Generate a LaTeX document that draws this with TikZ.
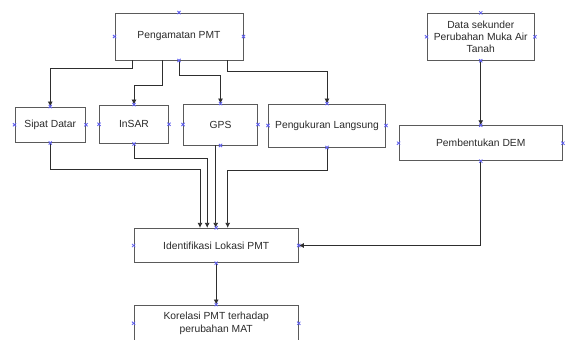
\documentclass[tikz,border=0pt]{standalone}
\usepackage{fontspec}
\setmainfont{Liberation Sans}
\usetikzlibrary{arrows.meta,calc}
\definecolor{boxline}{HTML}{5A5A5A}
\definecolor{conline}{HTML}{2E2E2E}
\definecolor{txt}{HTML}{2A2A2A}
\definecolor{mkblue}{RGB}{95,95,240}
\tikzset{
  box/.style={draw=boxline, line width=0.9pt, fill=white, text=txt, align=center,
    font=\fontsize{10.3}{12.4}\selectfont, inner sep=0pt},
  arr/.style={draw=conline, line width=0.8pt, -{Latex[length=5pt,width=5pt]}},
  con/.style={draw=conline, line width=0.8pt},
  mk/.style={draw=mkblue, line width=0.8pt}
}
\newcommand{\bluex}[1]{\draw[mk] (#1) +(-1.6,-1.6) -- +(1.6,1.6) +(-1.6,1.6) -- +(1.6,-1.6);}
\begin{document}
\begin{tikzpicture}[x=1pt,y=-1pt]
\useasboundingbox (0,0) rectangle (566,340);
\clip (0,0) rectangle (566,340);
\fill[white] (0,0) rectangle (566,340);

\node[box, minimum width=128pt, minimum height=47pt] (pm) at (179,36.5) {Pengamatan PMT};
\node[box, minimum width=70.5pt, minimum height=35.5pt] (sd) at (50.25,124.75) {Sipat Datar};
\node[box, minimum width=69pt, minimum height=38.5pt] (is) at (134,124.25) {InSAR};
\node[box, minimum width=74pt, minimum height=41pt] (gps) at (220.5,124.5) {GPS};
\node[box, minimum width=117pt, minimum height=43pt] (pl) at (327,125.5) {Pengukuran Langsung};
\node[box, minimum width=107.5pt, minimum height=47pt] (ds) at (480.75,36.8) {Data sekunder\\Perubahan Muka Air\\Tanah};
\node[box, minimum width=163.5pt, minimum height=35pt] (dem) at (480.75,143.2) {Pembentukan DEM};
\node[box, minimum width=164.3pt, minimum height=34.4pt] (id) at (216.2,245.5) {Identifikasi Lokasi PMT};
\node[box, minimum width=164.3pt, minimum height=36.6pt] (ko) at (216.2,323.3) {Korelasi PMT terhadap\\perubahan MAT};

\coordinate (gpsdrop) at ([xshift=-0.5pt]id.north);

% from Pengamatan PMT
\draw[arr] ([xshift=-46.3pt]pm.south) -- ++(0,8) -| (sd.north);
\draw[arr] ([xshift=-16.7pt]pm.south) -- ++(0,25) -| (is.north);
\draw[arr] (pm.south) -- ++(0,15) -| (gps.north);
\draw[arr] ([xshift=48.7pt]pm.south) -- ++(0,10.7) -| (pl.north);

% data sekunder to DEM
\draw[arr] (ds.south) -- (dem.north);

% into Identifikasi
\draw[arr] (sd.south) -- ++(0,26.8) -| ([xshift=-16.2pt]id.north);
\draw[arr] (is.south) -- ++(0,14.8) -| ([xshift=-9pt]id.north);
\draw[arr] (gpsdrop |- gps.south) -- (gpsdrop);
\draw[arr] (pl.south) -- ++(0,23) -| ([xshift=11.5pt]id.north);
\draw[arr] (dem.south) |- (id.east);

% to Korelasi
\draw[arr] (id.south) -- (ko.north);

% connection point markers
\foreach \n in {pm,sd,is,gps,pl,ds,dem,id,ko}{
  \bluex{\n.north}
  \bluex{\n.south}
  \bluex{\n.east}
  \bluex{\n.west}
}
\end{tikzpicture}
\end{document}
